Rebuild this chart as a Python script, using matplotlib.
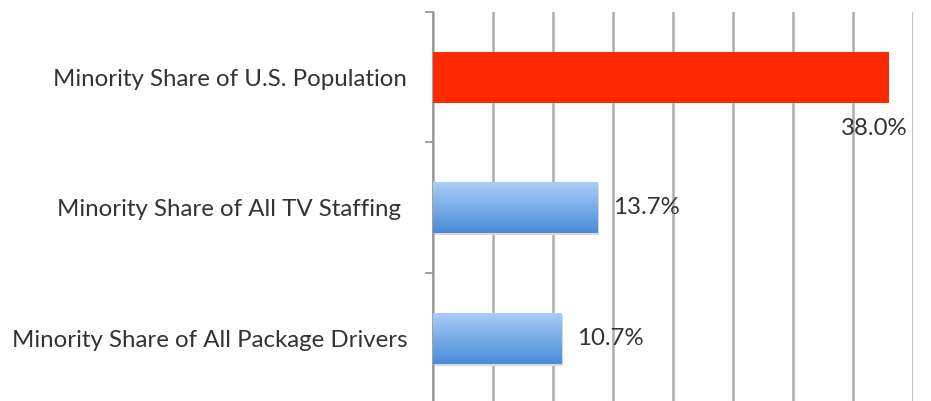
import numpy as np
import matplotlib.pyplot as plt
from matplotlib.colors import LinearSegmentedColormap

# data
categories = ['Minority Share of U.S. Population',
              'Minority Share of All TV Staffing ',
              'Minority Share of All Package Drivers']
values = [38.0, 13.7, 10.7]
labels = ['38.0%', '13.7%', '10.7%']

plt.rcParams['font.family'] = ['Lato', 'DejaVu Sans']

fig = plt.figure(figsize=(9.31, 4.01), dpi=100)
ax = fig.add_axes([433 / 931, -0.006, 480 / 931, 0.976])

ax.set_xlim(0, 40)
ax.set_ylim(2.5, -0.5)
ax.set_xticks(np.arange(0, 41, 5))
ax.tick_params(axis='x', length=0, labelbottom=False)
ax.grid(axis='x', color='#adadad', linewidth=1.8)
ax.set_axisbelow(True)

for s in ['top', 'right', 'bottom']:
    ax.spines[s].set_visible(False)
ax.spines['left'].set_color('#909090')
ax.spines['left'].set_linewidth(1.2)

ax.set_yticks(range(len(categories)))
ax.set_yticklabels(categories, fontsize=17.3, color='#333333')
ax.tick_params(axis='y', which='major', length=0, pad=18.5)
ax.set_yticks([-0.5, 0.5, 1.5, 2.5], minor=True)
ax.tick_params(axis='y', which='minor', length=6, color='#909090', width=1.2)

h = 0.39
blue = LinearSegmentedColormap.from_list('b', ['#a8cdf8', '#4a8cd8'])
grad = np.linspace(0, 1, 64).reshape(-1, 1)
for i, v in enumerate(values):
    if i == 0:
        ax.barh(i, v, height=h, color='#ff2a00', zorder=3)
    else:
        # shadow
        ax.barh(i + 0.015, v, height=h, left=0.15, color='#d8d8d8', zorder=2)
        ax.imshow(grad, cmap=blue, aspect='auto', zorder=3,
                  extent=(0, v, i + h / 2, i - h / 2))

ax.set_xlim(0, 40)
ax.set_ylim(2.5, -0.5)

ax.text(values[0] - 4, 0.39, labels[0], ha='left', va='center',
        fontsize=17.3, color='#333333', zorder=4)
for i in (1, 2):
    ax.text(values[i] + 1.3, i, labels[i], ha='left', va='center',
            fontsize=17.3, color='#333333', zorder=4)

fig.savefig('out.png', dpi=100)
